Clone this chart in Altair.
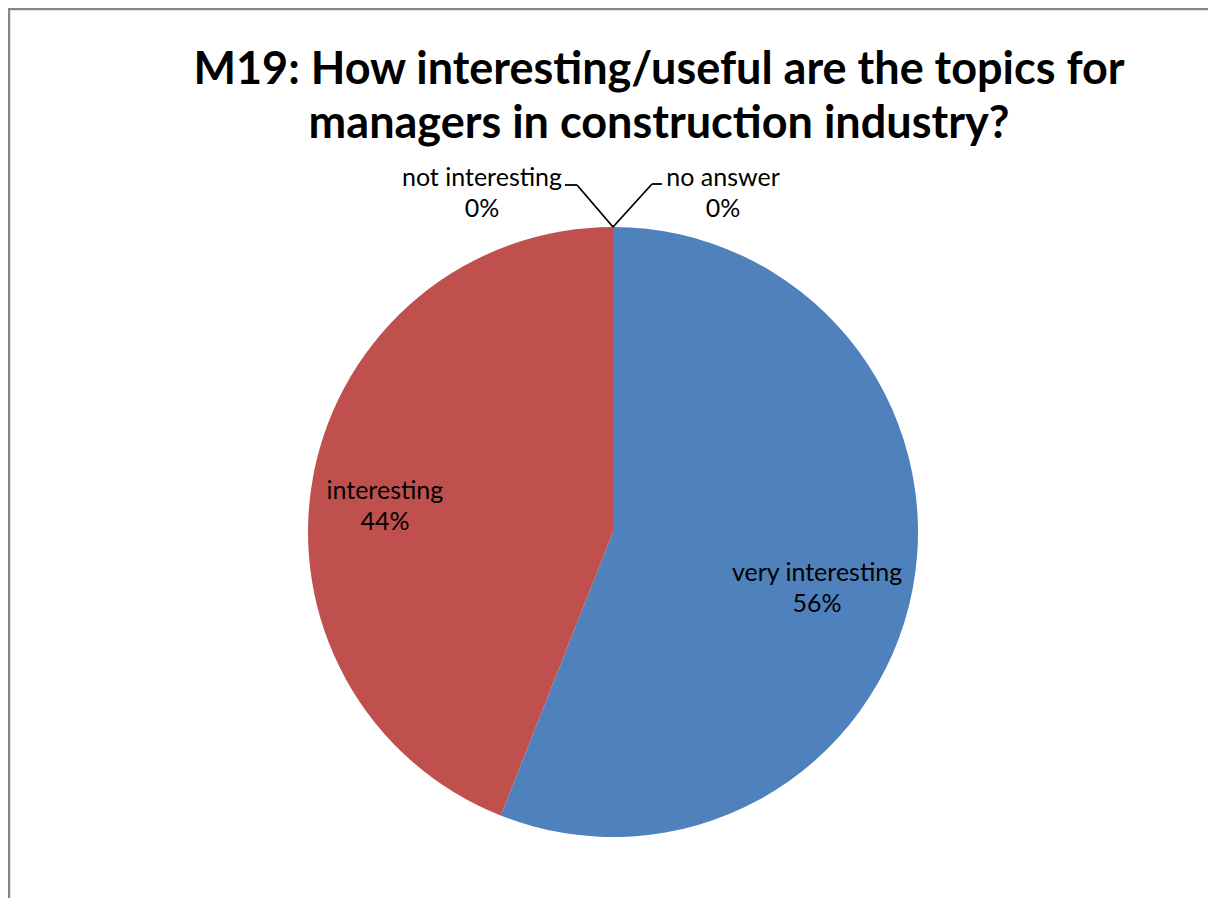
import altair as alt
import pandas as pd

# ---- data ----
categories = ["very interesting", "interesting", "not interesting", "no answer"]
percents = [56, 44, 0, 0]
slice_colors = ["#4F81BD", "#C0504D", "#9BBB59", "#8064A2"]
title_lines = ["M19: How interesting/useful are the topics for",
               "managers in construction industry?"]

df = pd.DataFrame({
    "category": categories,
    "percent": percents,
    "order": list(range(len(categories))),
})

# ---- layout constants (style only) ----
W, H = 1200, 740
PAD_TOP = 150
CX, CY = 605, 374
R = 305
FONT = "Lato"

theta_scale = alt.Scale(domain=[0, 100])
color = alt.Color("category:N",
                  scale=alt.Scale(domain=categories, range=slice_colors),
                  legend=None)

base = alt.Chart(df).transform_stack(
    stack="percent", groupby=[], as_=["t0", "t1"],
    sort=[alt.SortField("order", order="ascending")]
).transform_calculate(
    mid="(datum.t0 + datum.t1) / 2",
    label="datum.category + '\\n' + datum.percent + '%'",
)

pie = base.mark_arc(outerRadius=R).encode(
    theta=alt.Theta("t0:Q", scale=theta_scale, stack=None),
    theta2="t1:Q",
    color=color,
    x=alt.value(CX), y=alt.value(CY),
)

text_common = dict(font=FONT, fontSize=25, lineBreak="\n", lineHeight=31,
                   color="black", align="center", baseline="middle")

inner_labels = base.transform_filter("datum.percent > 0").mark_text(
    radius=220, dx=-12, dy=0, **text_common
).encode(
    theta=alt.Theta("mid:Q", scale=theta_scale, stack=None),
    text="label:N",
    x=alt.value(CX), y=alt.value(CY),
)

zero_left = base.transform_filter("datum.category == 'not interesting'").mark_text(
    radius=338, dx=-131, dy=-16, **text_common
).encode(
    theta=alt.Theta("mid:Q", scale=theta_scale, stack=None),
    text="label:N",
    x=alt.value(CX), y=alt.value(CY),
)

zero_right = base.transform_filter("datum.category == 'no answer'").mark_text(
    radius=338, dx=110, dy=-16, **text_common
).encode(
    theta=alt.Theta("mid:Q", scale=theta_scale, stack=None),
    text="label:N",
    x=alt.value(CX), y=alt.value(CY),
)

one = alt.Chart(pd.DataFrame({"k": [0]}))
top_y = CY - R


def seg(x1, y1, x2, y2):
    return one.mark_rule(color="black", strokeWidth=1.8).encode(
        x=alt.value(x1), y=alt.value(y1), x2=alt.value(x2), y2=alt.value(y2))


leaders = [
    seg(CX, top_y, CX - 36, top_y - 42),
    seg(CX - 36, top_y - 42, CX - 48, top_y - 42),
    seg(CX, top_y, CX + 39, top_y - 43),
    seg(CX + 39, top_y - 43, CX + 49, top_y - 43),
]

frame = one.mark_rect(fillOpacity=0, stroke="#868686", strokeWidth=2.5).encode(
    x=alt.value(1), y=alt.value(1 - PAD_TOP),
    x2=alt.value(1400), y2=alt.value(1200),
)

title = one.mark_text(
    font=FONT, fontSize=45, fontWeight="bold", color="black",
    align="center", baseline="alphabetic", lineBreak="\n", lineHeight=54,
).encode(
    text=alt.value("\n".join(title_lines)),
    x=alt.value(651), y=alt.value(84 - 8 - PAD_TOP),
)

chart = alt.layer(frame, pie, inner_labels, zero_left, zero_right, *leaders, title).properties(
    width=W, height=H,
    autosize=alt.AutoSizeParams(type="none"),
    padding={"left": 0, "top": PAD_TOP, "right": 0, "bottom": 0},
    background="white",
).configure_view(stroke=None)

chart.save("out.html", embed_options={"renderer": "svg", "actions": False})
